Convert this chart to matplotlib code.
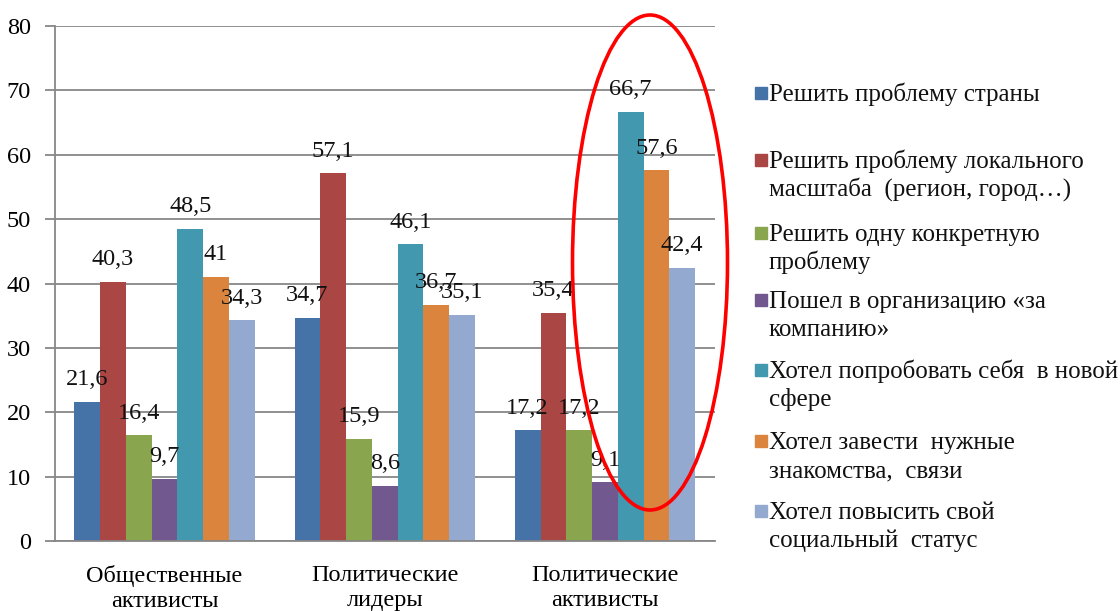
import numpy as np
import matplotlib
matplotlib.use("Agg")
import matplotlib.pyplot as plt
from matplotlib.patches import Rectangle, Ellipse

plt.rcParams['font.family'] = ['Liberation Serif', 'DejaVu Serif']

# Data
categories = ["Общественные\nактивисты", "Политические\nлидеры", "Политические\nактивисты"]
series_names = [
    "Решить проблему страны",
    "Решить проблему локального\nмасштаба  (регион, город…)",
    "Решить одну конкретную\nпроблему",
    "Пошел в организацию «за\nкомпанию»",
    "Хотел попробовать себя  в новой\nсфере",
    "Хотел завести  нужные\nзнакомства,  связи",
    "Хотел повысить свой\nсоциальный  статус",
]
values = [
    [21.6, 34.7, 17.2],
    [40.3, 57.1, 35.4],
    [16.4, 15.9, 17.2],
    [9.7, 8.6, 9.1],
    [48.5, 46.1, 66.7],
    [41.0, 36.7, 57.6],
    [34.3, 35.1, 42.4],
]
colors = ["#4572A7", "#AA4643", "#89A54E", "#71588F", "#4198AF", "#DB843D", "#93A9CF"]
yticks = [0, 10, 20, 30, 40, 50, 60, 70, 80]

W, H = 1120, 611
fig = plt.figure(figsize=(W / 100, H / 100), dpi=100)

def fx(px):
    return px / W

def fy(py):
    return 1 - py / H

ax = fig.add_axes([fx(54.5), fy(541), fx(715) - fx(54.5), fy(26) - fy(541)])

x = np.arange(len(categories))
bw = 0.117
for i, (vals, col) in enumerate(zip(values, colors)):
    pos = x + (i - 3) * bw
    ax.bar(pos, vals, width=bw, color=col, zorder=2)
    for xp, v in zip(pos, vals):
        ax.annotate(f"{v:g}".replace('.', ','), (xp, v), xytext=(0, 12),
                    textcoords="offset points", ha="center", va="baseline",
                    fontsize=17.5, color="#111111", zorder=4)

ax.set_xlim(-0.5, 2.5)
ax.set_ylim(0, 80)
ax.set_yticks(yticks)
ax.set_yticklabels([str(t) for t in yticks], fontsize=17.5)
ax.set_xticks(x)
ax.set_xticklabels(categories, fontsize=17.5, linespacing=1.25)
ax.tick_params(axis='x', length=0, pad=17)
ax.tick_params(axis='y', length=7, color="#878787", width=1.3, pad=10)
ax.grid(axis='y', color="#878787", linewidth=1.3, zorder=0)
for s in ["top", "right"]:
    ax.spines[s].set_visible(False)
for s in ["left", "bottom"]:
    ax.spines[s].set_color("#878787")
    ax.spines[s].set_linewidth(1.3)

# legend drawn by hand, one text per line
baselines = [101, 168, 241, 308, 378, 449, 519]
for name, col, base in zip(series_names, colors, baselines):
    fig.patches.append(Rectangle((fx(755), fy(base - 2)), fx(12), fy(0) - fy(12),
                                 transform=fig.transFigure, color=col))
    for j, line in enumerate(name.split("\n")):
        fig.text(fx(769), fy(base + 28 * j), line, fontsize=18, ha="left",
                 va="baseline", color="#111111")

# red ellipse around the third group
fig.patches.append(Ellipse((fx(650), fy(262.5)), fx(155), fy(0) - fy(495),
                           transform=fig.transFigure, fill=False,
                           edgecolor="#FF0000", linewidth=2.6, zorder=5))

fig.savefig("out.png", dpi=100)
